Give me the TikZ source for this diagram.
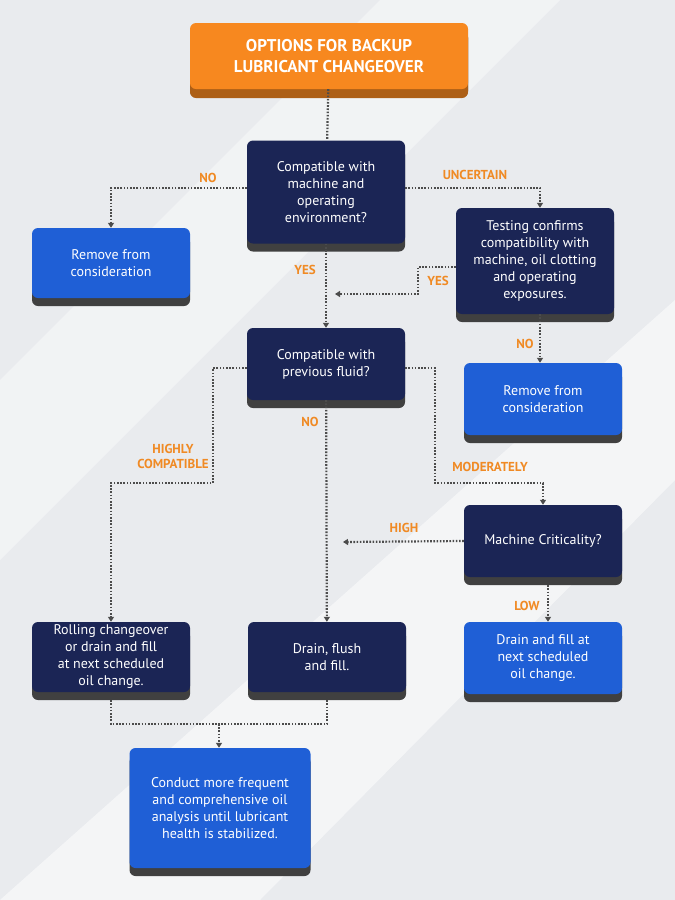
\documentclass[tikz,border=0pt]{standalone}
\usepackage{fontspec}
\setmainfont{PT Sans}
\usetikzlibrary{arrows.meta}
\definecolor{navy}{HTML}{1B2555}
\definecolor{bblue}{HTML}{1F5FD6}
\definecolor{orng}{HTML}{F7881F}
\definecolor{lblc}{HTML}{F08A24}
\definecolor{bgc}{HTML}{E9EBEE}
\begin{document}
\begin{tikzpicture}[x=1pt,y=-1pt,>={Triangle[length=5pt,width=6pt]},
box/.style={rounded corners=6pt,minimum width=158pt,text=white,align=center,font=\fontsize{14}{17}\selectfont,inner sep=2pt,
  preaction={fill=black!75,transform canvas={yshift=-8pt}}},
dk/.style={box,fill=navy},
bl/.style={box,fill=bblue},
lnk/.style={draw=black!70,line width=2.2pt,dash pattern=on 1.6pt off 1.6pt},
lbl/.style={text=lblc,font=\bfseries\fontsize{13}{15}\selectfont,align=center}]
\fill[bgc](0,0) rectangle (675,900);
\fill[white,opacity=.5](0,900)--(260,900)--(675,480)--(675,300)--cycle;
\fill[white,opacity=.4](380,0)--(560,0)--(0,560)--(0,380)--cycle;
% boxes
\node[box,fill=orng,minimum width=278pt,minimum height=66pt,font=\bfseries\fontsize{17}{21}\selectfont,
  preaction={fill=orng!70!black,transform canvas={yshift=-9pt}}] (title) at (329,56) {OPTIONS FOR BACKUP\\LUBRICANT CHANGEOVER};
\node[dk,minimum height=103pt] (comp1) at (326,192) {Compatible with\\machine and\\operating\\environment?};
\node[bl,minimum height=70pt] (rem1) at (111,263) {Remove from\\consideration};
\node[dk,minimum height=106pt] (test) at (535,261) {Testing confirms\\compatibility with\\machine, oil clotting\\and operating\\exposures.};
\node[dk,minimum height=72pt] (comp2) at (326,364) {Compatible with\\previous fluid?};
\node[bl,minimum height=72pt] (rem2) at (543,399) {Remove from\\consideration};
\node[dk,minimum height=72pt] (crit) at (543,541) {Machine Criticality?};
\node[dk,minimum height=70pt] (roll) at (111,657) {Rolling changeover\\or drain and fill\\at next scheduled\\oil change.};
\node[dk,minimum height=70pt] (drain) at (327,657) {Drain, flush\\and fill.};
\node[bl,minimum height=72pt] (dfill) at (543,658) {Drain and fill at\\next scheduled\\oil change.};
\node[bl,minimum height=120pt,minimum width=181pt] (cond) at (220,808) {Conduct more frequent\\and comprehensive oil\\analysis until lubricant\\health is stabilized.};
% connectors
\coordinate (m1) at (335,294);
\coordinate (m2) at (343,542);
\coordinate (j) at (219,724);
\draw[lnk](title)--(comp1);
\draw[lnk,->](comp1.west|-0,188)-|(rem1.north);
\draw[lnk,->](comp1.east|-0,188)-|(test.north-|540,0);
\draw[lnk,->](comp1)--(comp2);
\draw[lnk,->](test.west|-0,267)-|(418,280)|-(m1);
\draw[lnk,->](test.south-|540,0)--(rem2.north-|540,0);
\draw[lnk,->](comp2.west|-0,368)-|(213,483)-|(roll.north);
\draw[lnk,->](comp2)--(drain);
\draw[lnk,->](comp2.east|-0,368)-|(435,483)-|(crit.north);
\draw[lnk,->](crit.west)--(m2);
\draw[lnk,->](crit.south-|548,0)++(0,8)--(dfill.north-|548,0);
\draw[lnk](roll.south)++(0,8)|-(j);
\draw[lnk](drain.south)++(0,8)|-(j);
\draw[lnk,->](j)--(cond.north-|j);
% labels
\node[lbl] at (208,178) {NO};
\node[lbl] at (475,175) {UNCERTAIN};
\node[lbl] at (305,270) {YES};
\node[lbl] at (438,281) {YES};
\node[lbl] at (525,344) {NO};
\node[lbl] at (173,456) {HIGHLY\\COMPATIBLE};
\node[lbl] at (310,422) {NO};
\node[lbl] at (490,467) {MODERATELY};
\node[lbl] at (404,528) {HIGH};
\node[lbl] at (527,606) {LOW};
\end{tikzpicture}
\end{document}
